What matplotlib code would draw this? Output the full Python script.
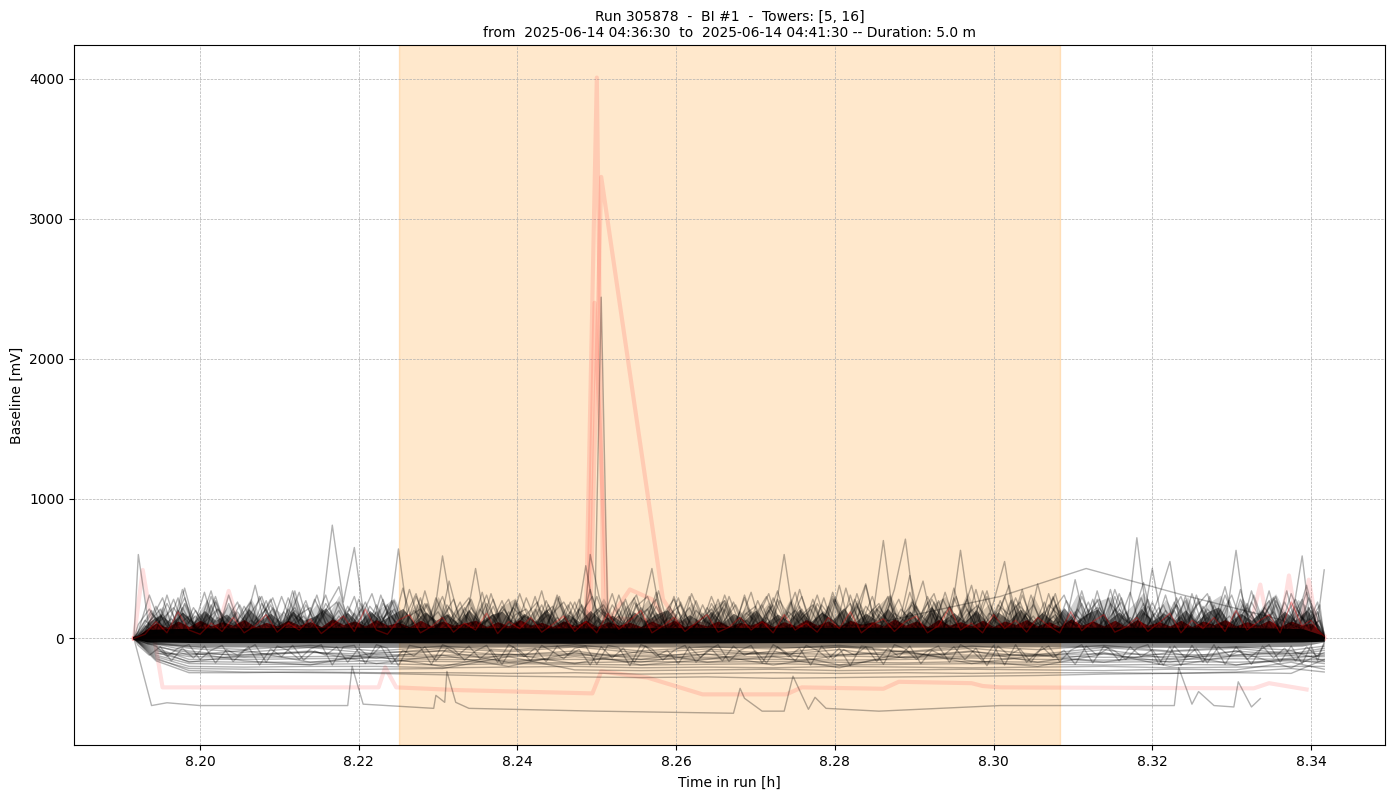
import matplotlib
matplotlib.use('Agg')
import matplotlib.pyplot as plt
import numpy as np

# run time of the first sample [h], the series below are in seconds from it
start_h = 8.19167

span_start = 8.2251
span_end = 8.3084

t_a = [0, 5, 10, 15, 20, 25, 30, 35, 40, 45,
       50, 55, 60, 65, 70, 75, 80, 85, 90, 95,
       100, 105, 110, 115, 120, 125, 130, 135, 140, 145,
       150, 155, 160, 165, 170, 175, 180, 185, 190, 195,
       200, 205, 210, 215, 220, 225, 230, 235, 240, 245,
       250, 255, 260, 265, 270, 275, 280, 285, 290, 295,
       300, 305, 310, 315, 320, 325, 330, 335, 340, 345,
       350, 355, 360, 365, 370, 375, 380, 385, 390, 395,
       400, 405, 410, 415, 420, 425, 430, 435, 440, 445,
       450, 455, 460, 465, 470, 475, 480, 485, 490, 495,
       500, 505, 510, 515, 520, 525, 530, 534, 537, 540]
t_b = [0, 2, 7, 12, 17, 22, 27, 32, 37, 42,
       47, 52, 57, 62, 67, 72, 77, 82, 87, 92,
       97, 102, 107, 112, 117, 122, 127, 132, 137, 142,
       147, 152, 157, 162, 167, 172, 177, 182, 187, 192,
       197, 202, 207, 212, 217, 222, 227, 232, 237, 242,
       247, 252, 257, 262, 267, 272, 277, 282, 287, 292,
       297, 302, 307, 312, 317, 322, 327, 332, 337, 342,
       347, 352, 357, 362, 367, 372, 377, 382, 387, 392,
       397, 402, 407, 412, 417, 422, 427, 432, 437, 442,
       447, 452, 457, 462, 467, 472, 477, 482, 487, 492,
       497, 502, 507, 512, 517, 522, 527, 532, 537, 540]
t_c = [0, 3, 8, 13, 18, 23, 28, 33, 38, 43,
       48, 53, 58, 63, 68, 73, 78, 83, 88, 93,
       98, 103, 108, 113, 118, 123, 128, 133, 138, 143,
       148, 153, 158, 163, 168, 173, 178, 183, 188, 193,
       198, 203, 208, 213, 218, 223, 228, 233, 238, 243,
       248, 253, 258, 263, 268, 273, 278, 283, 288, 293,
       298, 303, 308, 313, 318, 323, 328, 333, 338, 343,
       348, 353, 358, 363, 368, 373, 378, 383, 388, 393,
       398, 403, 408, 413, 418, 423, 428, 433, 438, 443,
       448, 453, 458, 463, 468, 473, 478, 483, 488, 493,
       498, 503, 508, 513, 518, 523, 528, 533, 538, 540]

# spiky traces above the dense core
f_a1 = [0, 90, 40, 310, 60, 20, 180, 30, 130, 45,
        70, 380, 50, 25, 210, 70, 40, 150, 810, 260,
        650, 85, 190, 35, 640, 60, 290, 30, 590, 130,
        60, 500, 40, 170, 280, 35, 90, 240, 55, 120,
        30, 520, 70, 45, 210, 30, 150, 500, 60, 100,
        35, 270, 80, 190, 40, 120, 330, 55, 90, 600,
        70, 30, 250, 110, 45, 310, 60, 140, 700, 90,
        50, 230, 40, 160, 70, 630, 85, 30, 260, 550,
        60, 180, 40, 320, 75, 120, 45, 280, 60, 210,
        35, 720, 90, 300, 550, 60, 170, 40, 240, 80,
        630, 50, 150, 270, 40, 100, 590, 60, 120, 490]
f_a2 = [0, 40, 230, 80, 290, 30, 110, 340, 60, 170,
        40, 90, 270, 50, 130, 330, 45, 200, 70, 110,
        300, 40, 80, 240, 60, 350, 90, 30, 150, 280,
        50, 120, 310, 60, 35, 190, 90, 340, 40, 75,
        260, 50, 130, 60, 310, 85, 30, 190, 65, 300,
        40, 110, 60, 280, 35, 150, 80, 240, 50, 120,
        330, 45, 100, 60, 380, 70, 200, 45, 110, 350,
        710, 90, 40, 270, 65, 140, 380, 55, 90, 300,
        60, 35, 390, 85, 120, 50, 340, 75, 40, 300,
        90, 50, 280, 60, 150, 40, 320, 80, 110, 370,
        45, 250, 70, 340, 50, 130, 280, 60, 190, 40]
f_b1 = [0, 600, 60, 170, 40, 350, 90, 30, 260, 70,
        130, 45, 300, 85, 40, 190, 60, 280, 110, 50,
        230, 70, 35, 310, 90, 120, 40, 340, 65, 170,
        45, 260, 80, 30, 230, 110, 60, 300, 45, 150,
        70, 280, 40, 95, 320, 60, 35, 190, 280, 55,
        100, 300, 50, 80, 220, 40, 310, 75, 150, 45,
        60, 350, 85, 35, 280, 110, 60, 380, 40, 130,
        85, 450, 60, 180, 40, 360, 70, 120, 340, 55,
        90, 40, 310, 75, 160, 50, 420, 85, 30, 290,
        65, 150, 45, 500, 70, 260, 35, 310, 90, 180,
        50, 350, 60, 140, 290, 40, 110, 330, 70, 20]
f_b2 = [0, 50, 310, 100, 40, 220, 75, 330, 55, 130,
        260, 40, 90, 240, 60, 340, 50, 120, 310, 70,
        40, 280, 85, 160, 45, 360, 70, 30, 290, 110,
        55, 200, 40, 320, 80, 130, 50, 210, 60, 290,
        85, 40, 350, 65, 120, 260, 50, 90, 330, 40,
        190, 75, 40, 250, 110, 60, 290, 45, 130, 340,
        70, 230, 40, 90, 300, 55, 170, 390, 60, 110,
        45, 330, 85, 40, 280, 120, 60, 350, 70, 160,
        380, 50, 110, 40, 300, 85, 190, 45, 340, 60,
        120, 330, 50, 90, 240, 45, 300, 70, 150, 50,
        270, 40, 340, 85, 50, 260, 110, 380, 60, 15]
f_c1 = [0, 30, 140, 290, 50, 360, 70, 110, 40, 310,
        80, 45, 250, 120, 60, 340, 35, 90, 230, 370,
        50, 120, 60, 280, 40, 150, 320, 65, 35, 410,
        110, 60, 330, 40, 85, 250, 55, 120, 35, 300,
        60, 180, 300, 45, 110, 40, 250, 80, 340, 50,
        130, 40, 240, 70, 310, 90, 45, 150, 320, 60,
        100, 40, 280, 70, 50, 360, 80, 120, 45, 300,
        60, 170, 410, 45, 90, 300, 60, 130, 40, 270,
        85, 350, 50, 110, 320, 40, 90, 260, 65, 350,
        45, 140, 400, 70, 35, 290, 85, 50, 300, 60,
        120, 40, 310, 90, 55, 340, 45, 140, 80, 30]
f_c2 = [0, 70, 200, 50, 120, 290, 45, 170, 60, 250,
        30, 130, 75, 220, 45, 110, 270, 50, 90, 200,
        40, 150, 320, 70, 45, 190, 85, 240, 50, 110,
        260, 40, 90, 170, 45, 270, 70, 35, 210, 90,
        50, 240, 60, 120, 40, 200, 310, 55, 90, 40,
        260, 65, 150, 40, 210, 75, 40, 270, 85, 140,
        45, 210, 60, 290, 40, 110, 230, 70, 40, 250,
        90, 50, 200, 320, 55, 100, 45, 230, 120, 40,
        270, 70, 160, 45, 240, 90, 40, 190, 280, 55,
        110, 45, 220, 70, 310, 50, 140, 260, 40, 110,
        60, 240, 45, 170, 300, 60, 90, 220, 50, 10]
f_c3 = [0, 20, 90, 170, 35, 250, 60, 130, 210, 40,
        150, 260, 45, 80, 190, 50, 240, 95, 40, 160,
        70, 210, 45, 130, 270, 60, 35, 180, 90, 220,
        45, 120, 60, 230, 40, 90, 170, 260, 50, 110,
        190, 40, 75, 210, 55, 280, 40, 120, 70, 230,
        90, 40, 180, 50, 130, 240, 65, 40, 200, 85,
        260, 50, 110, 190, 45, 80, 250, 40, 170, 60,
        210, 120, 45, 260, 80, 40, 170, 240, 50, 110,
        45, 200, 70, 260, 40, 130, 90, 210, 50, 160,
        260, 60, 40, 180, 95, 240, 45, 120, 60, 210,
        40, 170, 80, 220, 110, 45, 200, 70, 130, 5]
f_a3 = [0, 60, 150, 40, 200, 110, 50, 240, 70, 190,
        35, 130, 210, 55, 90, 170, 220, 40, 120, 70,
        180, 45, 240, 80, 40, 160, 210, 60, 110, 40,
        220, 70, 130, 45, 190, 85, 40, 160, 230, 55,
        100, 40, 210, 140, 60, 180, 40, 240, 85, 45,
        170, 60, 220, 100, 40, 190, 55, 130, 240, 45,
        85, 180, 40, 230, 65, 130, 40, 210, 95, 50,
        170, 45, 260, 70, 130, 45, 210, 85, 180, 40,
        240, 60, 110, 40, 200, 75, 250, 45, 130, 60,
        190, 40, 100, 220, 55, 150, 40, 230, 90, 45,
        190, 70, 40, 230, 60, 170, 45, 200, 90, 10]
f_a4 = [0, 130, 60, 250, 95, 160, 40, 300, 110, 60,
        230, 85, 170, 55, 290, 100, 45, 210, 140, 70,
        110, 260, 60, 190, 90, 40, 240, 130, 300, 65,
        170, 80, 250, 110, 60, 320, 95, 40, 180, 260,
        120, 60, 300, 85, 160, 45, 220, 110, 170, 280,
        65, 200, 120, 50, 300, 95, 190, 60, 290, 130,
        200, 90, 310, 55, 160, 250, 100, 300, 60, 180,
        120, 60, 300, 110, 230, 90, 50, 340, 130, 70,
        290, 110, 60, 240, 160, 45, 300, 120, 70, 350,
        130, 60, 230, 110, 170, 300, 80, 200, 50, 310,
        120, 220, 90, 170, 60, 320, 130, 230, 70, 15]
f_b3 = [0, 100, 210, 70, 140, 50, 220, 100, 300, 60,
        190, 75, 130, 280, 50, 170, 105, 60, 250, 120,
        180, 55, 140, 90, 270, 60, 200, 120, 45, 240,
        140, 70, 210, 100, 270, 55, 160, 115, 70, 310,
        90, 210, 130, 50, 240, 110, 290, 60, 180, 90,
        290, 50, 130, 210, 90, 260, 60, 170, 300, 90,
        190, 110, 60, 240, 130, 50, 280, 90, 210, 130,
        280, 70, 150, 220, 60, 290, 110, 180, 50, 240,
        170, 260, 70, 130, 290, 60, 170, 100, 280, 50,
        210, 110, 290, 55, 180, 130, 270, 60, 210, 120,
        50, 280, 110, 200, 60, 150, 280, 90, 190, 10]
f_b4 = [0, 20, 120, 210, 65, 180, 105, 40, 270, 85,
        60, 210, 130, 75, 300, 90, 160, 45, 190, 260,
        100, 50, 230, 130, 200, 70, 110, 250, 80, 50,
        190, 290, 90, 150, 60, 220, 130, 50, 270, 100,
        240, 65, 130, 210, 85, 50, 260, 90, 230, 60,
        130, 220, 70, 300, 100, 60, 170, 230, 65, 280,
        50, 130, 210, 60, 330, 100, 50, 230, 130, 300,
        60, 190, 90, 280, 120, 50, 240, 75, 300, 100,
        50, 230, 140, 60, 200, 310, 90, 160, 220, 70,
        320, 110, 60, 260, 90, 200, 50, 230, 320, 80,
        160, 60, 260, 110, 190, 60, 230, 90, 260, 25]
f_c4 = [0, 50, 180, 90, 280, 60, 200, 40, 150, 90,
        240, 60, 160, 290, 70, 200, 90, 310, 50, 130,
        210, 90, 45, 250, 130, 70, 300, 110, 190, 60,
        150, 280, 65, 110, 210, 60, 290, 100, 170, 45,
        260, 110, 50, 190, 130, 60, 230, 300, 90, 150,
        50, 320, 130, 90, 250, 45, 180, 110, 60, 270,
        130, 300, 70, 170, 110, 50, 320, 70, 230, 100,
        40, 260, 150, 70, 330, 90, 210, 50, 180, 120,
        60, 310, 110, 190, 50, 270, 130, 60, 220, 100,
        290, 70, 180, 120, 60, 240, 110, 280, 70, 160,
        310, 90, 190, 60, 270, 130, 50, 290, 110, 20]
f_c5 = [0, 15, 70, 140, 220, 90, 160, 50, 210, 120,
        70, 180, 300, 60, 130, 220, 80, 160, 50, 260,
        120, 60, 180, 90, 210, 50, 130, 250, 70, 170,
        50, 220, 100, 280, 60, 170, 210, 70, 240, 90,
        130, 55, 170, 240, 100, 60, 150, 210, 50, 170,
        240, 90, 60, 180, 270, 70, 130, 50, 230, 110,
        60, 170, 240, 90, 280, 130, 60, 170, 250, 60,
        150, 240, 100, 50, 190, 130, 280, 60, 110, 220,
        50, 130, 240, 90, 170, 50, 210, 100, 60, 250,
        150, 90, 250, 60, 200, 110, 50, 170, 270, 100,
        70, 210, 130, 50, 240, 80, 170, 110, 240, 0]
spike_traces = [(t_a, f_a1), (t_a, f_a2), (t_b, f_b1), (t_b, f_b2),
                (t_c, f_c1), (t_c, f_c2), (t_c, f_c3), (t_a, f_a3),
                (t_a, f_a4), (t_b, f_b3), (t_b, f_b4), (t_c, f_c4), (t_c, f_c5)]

# the few slow traces that stand out
slow_t = [0, 15, 60, 120, 200, 280, 334, 393, 432, 476, 520, 540]
slow_v = [0, 60, 50, 70, 40, 60, 100, 300, 500, 310, 135, 0]
bottom_t = [0, 8, 15, 30, 97, 99, 104, 136, 137, 141, 142, 146, 152, 210, 272, 275, 277,
            285, 295, 299, 306, 309, 314, 338, 393, 472, 474, 480, 483, 490, 499, 501, 507, 511]
bottom_v = [0, -480, -460, -480, -480, -200, -470, -500, -407, -457, -236, -457, -500, -520,
            -535, -357, -428, -520, -520, -270, -507, -421, -500, -520, -480, -480, -210,
            -470, -380, -480, -490, -310, -490, -430]
burst_t = [0, 100, 180, 205, 209, 212, 215, 219, 240, 400, 540]
burst_v = [10, 30, 20, 60, 100, 2440, 110, 40, 30, 20, 10]
burst2_t = [0, 150, 204, 207, 211, 216, 220, 300, 540]
burst2_v = [0, 40, 60, 600, 300, 60, 20, 30, 0]

# traces below the core
low_t = [0, 10, 25, 50, 80, 110, 140, 170, 200, 230, 260, 290, 320, 350, 380, 410, 440, 470, 500, 525, 540]
low_1 = [0, -110, -110, -115, -100, -115, -120, -115, -110, -120, -115, -105, -115, -110, -120, -115, -110, -115, -120, -105, -110]
low_2 = [0, -90, -130, -135, -130, -125, -135, -130, -120, -130, -135, -130, -125, -135, -130, -120, -135, -130, -130, -125, -130]
low_3 = [0, -70, -150, -150, -145, -140, -150, -155, -150, -150, -145, -150, -155, -150, -140, -150, -155, -150, -145, -150, -150]
low_4 = [0, -100, -165, -170, -170, -160, -165, -170, -175, -165, -170, -165, -170, -175, -165, -170, -170, -165, -170, -160, -165]
low_5 = [0, -120, -180, -185, -185, -180, -190, -180, -185, -190, -185, -180, -190, -185, -180, -185, -190, -185, -190, -150, -180]
low_6 = [0, -130, -200, -205, -200, -200, -210, -205, -200, -210, -205, -210, -200, -205, -210, -205, -200, -210, -205, -200, -200]
low_7 = [0, -150, -215, -220, -225, -220, -215, -130, -225, -230, -225, -220, -230, -225, -220, -225, -230, -220, -225, -170, -220]
low_8 = [0, -160, -245, -245, -240, -245, -245, -250, -245, -255, -250, -245, -250, -245, -250, -245, -245, -250, -245, -250, -150]
low_9 = [0, -140, -230, -240, -245, -250, -260, -270, -275, -280, -275, -285, -280, -275, -270, -265, -255, -250, -240, -215, -240]
low_10 = [0, -60, -100, -160, -190, -100, -90, -170, -130, -170, -110, -190, -120, -90, -180, -120, -170, -100, -190, -140, -120]
low_11 = [0, -50, -120, -85, -170, -130, -200, -110, -180, -90, -170, -130, -210, -100, -160, -200, -110, -170, -90, -210, -100]
low_12 = [0, -80, -170, -120, -90, -180, -120, -200, -100, -190, -150, -90, -190, -130, -90, -170, -100, -200, -120, -90, -160]
low_13 = [0, -40, -90, -130, -95, -140, -85, -120, -90, -150, -90, -120, -80, -140, -95, -130, -80, -145, -90, -120, -85]
low_14 = [0, -35, -70, -100, -65, -110, -70, -95, -60, -105, -75, -110, -60, -100, -70, -115, -65, -95, -70, -110, -70]
low_15 = [0, -30, -60, -80, -50, -90, -55, -85, -45, -90, -60, -75, -50, -95, -55, -80, -50, -90, -60, -85, -55]
low_traces = [low_1, low_2, low_3, low_4, low_5, low_6, low_7, low_8, low_9,
              low_10, low_11, low_12, low_13, low_14, low_15]

# solid parts, hundreds of traces overlap there
core_t = [0, 6, 30, 100, 200, 300, 400, 500, 530, 540]
core_black_hi = [0, 65, 75, 80, 75, 80, 80, 80, 70, 20]
core_black_lo = [0, -25, -30, -30, -35, -30, -30, -30, -25, -20]
core_low = [0, -40, -60, -65, -60, -65, -60, -65, -55, -25]
dens_red = [0, 60, 110, 80, 125, 85, 130, 90, 120, 95,
            135, 85, 115, 90, 130, 95, 120, 85, 140, 100,
            125, 90, 135, 95, 115, 85, 130, 90, 125, 95,
            110, 130, 85, 120, 90, 135, 95, 115, 85, 125,
            90, 130, 85, 120, 95, 115, 85, 125, 90, 130,
            85, 110, 90, 125, 85, 115, 95, 130, 85, 120,
            90, 135, 95, 125, 85, 130, 100, 120, 90, 140,
            95, 125, 85, 135, 95, 120, 90, 130, 85, 125,
            100, 135, 90, 120, 85, 140, 95, 125, 90, 130,
            85, 135, 95, 120, 90, 130, 85, 125, 100, 135,
            90, 120, 95, 130, 85, 125, 95, 110, 70, 10]
dens_mid = [0, 40, 120, 170, 110, 190, 120, 200, 130, 175,
            105, 210, 125, 180, 115, 195, 130, 160, 220, 120,
            185, 110, 200, 125, 170, 215, 115, 190, 130, 175,
            110, 205, 120, 170, 195, 115, 180, 125, 210, 110,
            175, 120, 200, 130, 165, 110, 190, 125, 175, 205,
            115, 170, 120, 195, 110, 180, 130, 205, 115, 175,
            125, 210, 120, 190, 135, 220, 115, 180, 130, 215,
            120, 195, 110, 225, 130, 185, 120, 205, 115, 190,
            130, 210, 115, 185, 125, 220, 120, 175, 210, 130,
            190, 115, 215, 125, 180, 130, 205, 120, 190, 225,
            115, 180, 130, 200, 120, 195, 130, 205, 110, 20]
dens_hi = [0, 20, 150, 230, 130, 260, 150, 280, 140, 240,
           160, 290, 145, 220, 170, 300, 150, 250, 165, 310,
           140, 260, 170, 230, 290, 145, 250, 165, 300, 150,
           230, 140, 270, 160, 240, 290, 150, 220, 170, 270,
           140, 250, 160, 290, 145, 240, 170, 280, 150, 220,
           140, 260, 155, 240, 280, 145, 230, 165, 260, 150,
           290, 140, 250, 170, 310, 150, 280, 165, 240, 320,
           145, 290, 160, 250, 300, 150, 330, 170, 250, 150,
           290, 160, 310, 145, 250, 170, 320, 150, 270, 300,
           160, 240, 330, 150, 280, 170, 300, 145, 260, 310,
           160, 290, 150, 250, 320, 165, 280, 220, 120, 20]

# jagged traces under the core
low_zig_1 = [0, -30, -55, -130, -70, -45, -150, -85, -50, -165,
             -90, -45, -170, -55, -85, -150, -75, -45, -190, -60,
             -50, -180, -45, -70, -195, -50, -65, -185, -45, -75,
             -155, -90, -50, -170, -45, -85, -160, -50, -95, -145,
             -70, -55, -185, -50, -65, -195, -45, -75, -155, -85,
             -50, -170, -90, -45, -165, -85, -50, -175, -45, -90,
             -160, -50, -85, -145, -70, -195, -55, -65, -185, -45,
             -75, -150, -90, -55, -170, -45, -85, -160, -50, -190,
             -45, -170, -95, -55, -165, -85, -45, -175, -55, -90,
             -150, -70, -45, -185, -60, -195, -50, -170, -45, -185,
             -60, -150, -90, -45, -170, -55, -180, -50, -160, -25]
low_zig_2 = [0, -50, -120, -60, -160, -70, -140, -55, -175, -80,
             -120, -60, -190, -75, -130, -50, -155, -90, -120, -60,
             -170, -70, -135, -55, -180, -85, -125, -60, -160, -70,
             -120, -55, -145, -80, -185, -60, -130, -70, -165, -55,
             -120, -80, -190, -60, -140, -70, -170, -55, -125, -85,
             -180, -60, -135, -75, -160, -55, -120, -90, -175, -60,
             -130, -70, -190, -55, -145, -80, -120, -60, -165, -70,
             -130, -55, -180, -85, -125, -60, -150, -70, -195, -55,
             -120, -75, -170, -60, -135, -85, -185, -55, -120, -70,
             -160, -60, -130, -80, -190, -55, -140, -70, -175, -60,
             -125, -85, -185, -55, -140, -70, -160, -60, -130, -40]

# thick pale red traces
pink_1_t = [0, 4, 13, 111, 114, 119, 148, 208, 212, 233, 258, 296, 303, 340, 347, 380, 385, 393, 508, 515, 532]
pink_1_v = [0, 490, -350, -350, -207, -350, -370, -393, -236, -280, -400, -400, -350, -360, -310, -320, -340, -350, -357, -320, -365]
pink_2_t = [0, 38, 43, 48, 120, 205, 210, 213, 300, 506, 511, 515, 540]
pink_2_v = [0, 60, 340, 70, 60, 80, 4010, 150, 60, 60, 385, 60, 0]
pink_3_t = [0, 100, 207, 212, 240, 250, 400, 520, 524, 528, 540]
pink_3_v = [0, 50, 80, 3300, 280, 40, 60, 60, 450, 60, 0]
pink_4_t = [0, 150, 206, 209, 215, 225, 235, 245, 529, 533, 537, 540]
pink_4_v = [0, 40, 60, 2400, 120, 350, 280, 40, 50, 420, 60, 20]
pink_traces = [(pink_1_t, pink_1_v), (pink_2_t, pink_2_v), (pink_3_t, pink_3_v), (pink_4_t, pink_4_v)]

# thin red traces
red_1 = [0, 30, 120, 40, 190, 60, 30, 110, 50, 150,
         40, 90, 170, 45, 110, 60, 140, 35, 95, 160,
         50, 210, 60, 30, 130, 170, 40, 85, 150, 45,
         110, 60, 180, 35, 120, 70, 150, 45, 100, 160,
         50, 120, 40, 180, 65, 130, 200, 40, 90, 150,
         50, 110, 170, 45, 80, 150, 60, 120, 40, 170,
         60, 110, 45, 150, 70, 190, 40, 100, 140, 50,
         120, 160, 40, 90, 220, 60, 110, 40, 170, 70,
         130, 45, 150, 90, 40, 190, 55, 120, 170, 45,
         80, 150, 50, 110, 180, 40, 130, 70, 150, 50,
         200, 60, 120, 170, 40, 260, 90, 130, 60, 15]


def hours(seconds):
    return start_h + np.array(seconds) / 3600


plt.figure(figsize=(13.94, 7.99), dpi=100)
ax = plt.gca()

ax.axvspan(span_start, span_end, color='darkorange', alpha=0.2)

for times, values in pink_traces:
    ax.plot(hours(times), values, color='red', alpha=0.12, lw=3)

ax.fill_between(hours(t_c), 0, dens_hi, color='black', alpha=0.18, lw=0, zorder=2)
ax.fill_between(hours(t_b), 0, dens_mid, color='black', alpha=0.5, lw=0, zorder=2)
ax.fill_between(hours(t_a), 0, dens_red, color='#5a0000', alpha=0.9, lw=0, zorder=2)
ax.fill_between(hours(core_t), core_low, 0, color='black', alpha=0.45, lw=0, zorder=2)
ax.fill_between(hours(core_t), core_black_lo, core_black_hi, color='black', alpha=0.95, lw=0, zorder=2)

for times, values in spike_traces:
    ax.plot(hours(times), values, color='black', alpha=0.3, lw=1)
for values in low_traces:
    ax.plot(hours(low_t), values, color='black', alpha=0.3, lw=1)
ax.plot(hours(t_a), low_zig_1, color='black', alpha=0.3, lw=1)
ax.plot(hours(t_b), low_zig_2, color='black', alpha=0.3, lw=1)

ax.plot(hours(slow_t), slow_v, color='black', alpha=0.3, lw=1)
ax.plot(hours(bottom_t), bottom_v, color='black', alpha=0.3, lw=1)
ax.plot(hours(burst_t), burst_v, color='black', alpha=0.3, lw=1)
ax.plot(hours(burst2_t), burst2_v, color='black', alpha=0.3, lw=1)
ax.plot(hours(t_a), red_1, color='red', alpha=0.3, lw=1)

ax.set_xlim(8.18412, 8.34933)
ax.set_ylim(-762, 4243)
ax.grid(True, ls='--', lw=0.5)
ax.set_xlabel('Time in run [h]', labelpad=5)
ax.set_ylabel('Baseline [mV]')
ax.set_title('Run 305878  -  BI #1  -  Towers: [5, 16]\n'
             'from  2025-06-14 04:36:30  to  2025-06-14 04:41:30 -- Duration: 5.0 m', fontsize=10)
plt.subplots_adjust(left=74/1394, right=1385/1394, top=1-45/799, bottom=1-745/799)
plt.savefig('out.png', dpi=100)
